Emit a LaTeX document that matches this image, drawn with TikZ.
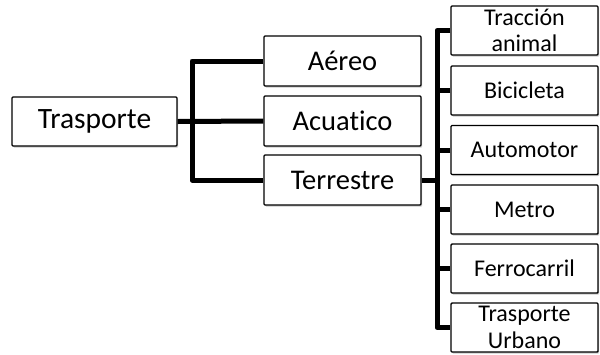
\documentclass[tikz,border=0pt]{standalone}
\usepackage{fontspec}
\setmainfont[RawFeature=-liga]{Carlito}
\usetikzlibrary{shadows}
\begin{document}
\begin{tikzpicture}[x=1pt,y=-1pt,
  box/.style={draw=black, line width=1.4pt, rounded corners=1pt, fill=white,
    drop shadow={shadow xshift=1.2pt, shadow yshift=-1.6pt, opacity=0.35, fill=black!60},
    align=center, inner sep=0pt, anchor=center},
  lone/.style={box, minimum width=165pt, minimum height=49pt, font=\fontsize{29.5}{31}\selectfont},
  ltwo/.style={box, minimum width=157pt, minimum height=50pt, font=\fontsize{28.5}{30}\selectfont},
  lthree/.style={box, minimum width=147pt, minimum height=49pt, font=\fontsize{24}{26.5}\selectfont},
  conn/.style={line width=5pt, line join=round}]
\useasboundingbox (0,0) rectangle (600,354);
\node[lone] (tr) at (94.5,121.5) {Trasporte};
\node[ltwo] (ae) at (342.5,61) {Aéreo};
\node[ltwo] (ac) at (342.5,121) {Acuatico};
\node[ltwo] (te) at (342.5,180) {Terrestre};
\node[lthree] (ta) at (524.5,30.5) {Tracción\\animal};
\node[lthree] (bi) at (524.5,90.5) {Bicicleta};
\node[lthree] (au) at (524.5,150) {Automotor};
\node[lthree] (me) at (524.5,209.5) {Metro};
\node[lthree] (fe) at (524.5,268.5) {Ferrocarril};
\node[lthree] (tu) at (524.5,327.5) {Trasporte\\Urbano};
\coordinate (b1) at (192,121);
\coordinate (b2) at (437,180);
\draw[conn] (tr.east) -- (ac.west);
\draw[conn] (ae.west) -| (b1) |- (te.west);
\draw[conn] (te.east) -- (b2);
\draw[conn] (ta.west) -| (b2) |- (tu.west);
\draw[conn] (bi.west) -- (bi.west -| b2);
\draw[conn] (au.west) -- (au.west -| b2);
\draw[conn] (me.west) -- (me.west -| b2);
\draw[conn] (fe.west) -- (fe.west -| b2);
\end{tikzpicture}
\end{document}
